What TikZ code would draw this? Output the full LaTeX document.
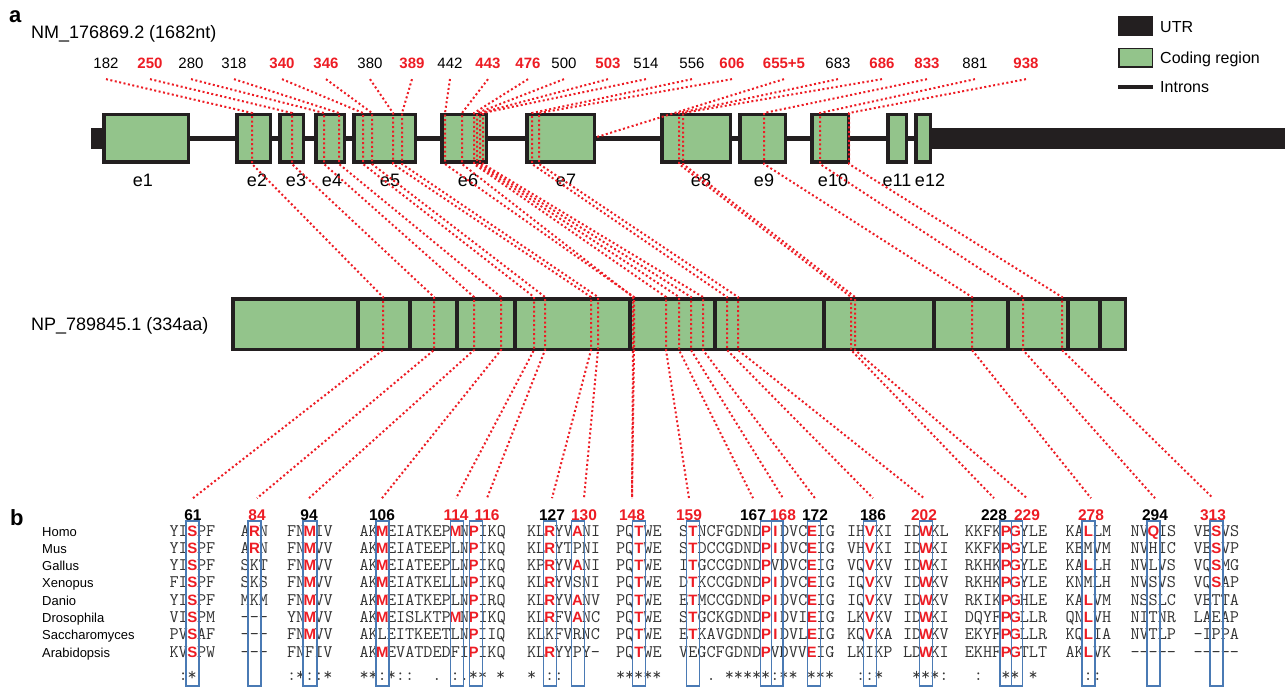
\documentclass[tikz,border=0pt]{standalone}
\usepackage{fontspec}
\setmainfont{Liberation Sans}

\definecolor{snpred}{RGB}{237,28,36}
\definecolor{cds}{RGB}{147,196,139}
\definecolor{utr}{RGB}{35,31,32}
\definecolor{colblue}{RGB}{74,122,180}

\newcommand{\hit}[1]{\makebox[9.3pt]{\rmfamily\bfseries\fontsize{15}{17}\selectfont\color{snpred}#1}}
\newcommand{\alnblock}[3]{%
    \foreach \s [count=\i] in {#3} {\node[aln] (#1-\i) at (#2,518.7+17.3*\i) {\s};}}

\tikzset{
            exon/.style={draw=utr, line width=3.5pt, fill=cds},
            intron/.style={draw=utr, line width=5pt},
            divider/.style={draw=utr, line width=3.5pt},
            snp/.style={draw=snpred, line width=2pt, dash pattern=on 2pt off 2.5pt},
            ntlab/.style={font=\fontsize{15}{18}\selectfont, inner sep=1pt, outer ysep=9pt, anchor=base},
            ntred/.style={ntlab, text=snpred, font=\fontsize{15}{18}\selectfont\bfseries},
            reslab/.style={font=\fontsize{15.5}{18}\selectfont\bfseries, inner sep=1pt, outer ysep=10pt, anchor=base},
            resred/.style={reslab, text=snpred},
            exlab/.style={font=\fontsize{18}{20}\selectfont, inner sep=0pt, anchor=base},
            title/.style={font=\fontsize{18}{20}\selectfont, inner sep=0pt, anchor=base west},
            legend/.style={font=\fontsize{16}{18}\selectfont, inner sep=0pt, anchor=base west},
            panel/.style={font=\fontsize{22}{26}\selectfont\bfseries, inner sep=0pt, anchor=base west},
            species/.style={font=\fontsize{13}{15}\selectfont, inner sep=0pt, anchor=base west},
            aln/.style={font=\ttfamily\fontsize{17.7}{19}\selectfont, text=black!80, inner sep=0pt, anchor=base west},
            colbox/.style={draw=colblue, line width=1.4pt}
        }

\begin{document}
\begin{tikzpicture}[x=1pt, y=-1pt]
    \useasboundingbox (0,0) rectangle (1285,687);

    % panel a: transcript
    \node[panel] (pa) at (9,23) {a};
    \node[title] (nm) at (31,39) {NM\_176869.2 (1682nt)};

    % legend
    \fill[utr] (1118,16) rectangle (1153,36);
    \node[legend] (lutr) at (1160,33) {UTR};
    \draw[exon, line width=1.5pt] (1118.75,48.75) rectangle (1152.25,67.25);
    \node[legend] (lcds) at (1160,64) {Coding region};
    \draw[intron, line width=4pt] (1118,87.5) -- (1153,87.5);
    \node[legend] (lint) at (1160,93) {Introns};

    % gene model
    \draw[intron] (91,138.5) -- (932,138.5);
    \fill[utr] (91,128) rectangle (102,149);
    \fill[utr] (932,128) rectangle (1285,149);
    \foreach \l/\r in {102/190, 235/272, 278/305, 314/346, 352/417, 440/488,
                       525/596, 660/732, 738/787, 810/850, 886/908, 914/932}
        \draw[exon] (\l+1.75,114.75) rectangle (\r-1.75,162.25);
    \foreach \nm/\x in {e1/143, e2/257, e3/296, e4/332, e5/390, e6/468, e7/566,
                        e8/701, e9/764, e10/833, e11/897, e12/930}
        \node[exlab] (\nm) at (\x,187) {\nm};

    % protein
    \node[title] (np) at (31,330) {NP\_789845.1 (334aa)};
    \draw[exon] (232.75,298.75) rectangle (1125.25,349.25);
    \foreach \x in {358, 410, 457, 515, 630, 715, 824, 934, 1008, 1068, 1100}
        \draw[divider] (\x,297) -- (\x,351);

    % nucleotide positions
    \foreach \nm/\txt/\x/\sty in {182/182/106/ntlab, 250/250/150/ntred, 280/280/191/ntlab,
                                 318/318/234/ntlab, 340/340/282/ntred, 346/346/326/ntred,
                                 380/380/370/ntlab, 389/389/412/ntred, 442/442/450/ntlab,
                                 443/443/488/ntred, 476/476/528/ntred, 500/500/564/ntlab,
                                 503/503/608/ntred, 514/514/646/ntlab, 556/556/692/ntlab,
                                 606/606/732/ntred, 655/655+5/784/ntred, 683/683/838/ntlab,
                                 686/686/882/ntred, 833/833/927/ntred, 881/881/975/ntlab,
                                 938/938/1026/ntred}
        \node[\sty] (n\nm) at (\x,69) {\txt};

    % panel b: residue numbers
    \node[panel] (pb) at (10,525) {b};
    \foreach \aa/\x/\sty in {61/193/reslab, 84/257/resred, 94/309/reslab, 106/382/reslab,
                            114/456/resred, 116/487/resred, 127/552/reslab, 130/584/resred,
                            148/632/resred, 159/689/resred, 167/753/reslab, 168/783/resred,
                            172/815/reslab, 186/873/reslab, 202/924/resred, 228/994/reslab,
                            229/1027/resred, 278/1091/resred, 294/1155/reslab, 313/1213/resred}
        \node[\sty] (r\aa) at (\x,520) {\aa};

    % mapping lines
    \foreach \nt/\gx/\px/\aa in {182/252/383/61, 250/292/434/84, 280/324/474/94, 318/339/501/106,
                                340/363/534/114, 346/372/545/116, 380/393/591/127, 389/402/598/130,
                                442/445/634/148, 443/462/633/148, 476/474/666/159, 500/477/679/167,
                                503/480/691/168, 514/483/703/172, 556/532/727/186, 606/539/738/202,
                                683/679/851/228, 686/683/855/229, 833/764/972/278, 881/820/1023/294,
                                938/849/1062/313}
        \draw[snp] (n\nt.south) -- (\gx,113) -- (\gx,164) -- (\px,297) -- (\px,350) -- (r\aa.north);
    \draw[snp] (n655.south) -- (597,137);

    % species
    \foreach \sp [count=\i] in {Homo, Mus, Gallus, Xenopus, Danio, Drosophila, Saccharomyces, Arabidopsis}
        \node[species] (sp\i) at (42,518.7+17.3*\i) {\sp};

    % alignment blocks
    \alnblock{b61}{169.3}{YI\hit{S}PF, YI\hit{S}PF, YI\hit{S}PF, FI\hit{S}PF, YI\hit{S}PF, VI\hit{S}PM, PV\hit{S}AF, KV\hit{S}PW}
    \alnblock{b84}{240.5}{A\hit{R}N, A\hit{R}N, SKT, SKS, MKM, ---, ---, ---}
    \alnblock{b94}{286.8}{FN\hit{M}IV, FN\hit{M}VV, FN\hit{M}VV, FN\hit{M}VV, FN\hit{M}VV, YN\hit{M}VV, FN\hit{M}VV, FNFIV}
    \alnblock{b106}{359.3}{AK\hit{M}EIATKEP\hit{M}N\hit{P}IKQ, AK\hit{M}EIATEEPLN\hit{P}IKQ, AK\hit{M}EIATEEPLN\hit{P}IKQ,
                           AK\hit{M}EIATKELLN\hit{P}IKQ, AK\hit{M}EIATKEPLN\hit{P}IRQ, AK\hit{M}EISLKTP\hit{M}N\hit{P}IKQ,
                           AKLEITKEETLN\hit{P}IIQ, AK\hit{M}EVATDEDFI\hit{P}IKQ}
    \alnblock{b127}{526.8}{KL\hit{R}YV\hit{A}NI, KL\hit{R}YTPNI, KP\hit{R}YV\hit{A}NI, KL\hit{R}YVSNI, KL\hit{R}YV\hit{A}NV,
                           KL\hit{R}FV\hit{A}NC, KLKFVRNC, KL\hit{R}YYPY-}
    \alnblock{b148}{615.8}{PQ\hit{T}WE, PQ\hit{T}WE, PQ\hit{T}WE, PQ\hit{T}WE, PQ\hit{T}WE, PQ\hit{T}WE, PQ\hit{T}WE, PQ\hit{T}WE}
    \alnblock{b159}{679}{S\hit{T}NCFGDND\hit{P}\hit{I}DVC\hit{E}IG, S\hit{T}DCCGDND\hit{P}\hit{I}DVC\hit{E}IG,
                         I\hit{T}GCCGDND\hit{P}VDVC\hit{E}IG, D\hit{T}KCCGDND\hit{P}\hit{I}DVC\hit{E}IG,
                         E\hit{T}MCCGDND\hit{P}\hit{I}DVC\hit{E}IG, S\hit{T}GCKGDND\hit{P}\hit{I}DVI\hit{E}IG,
                         E\hit{T}KAVGDND\hit{P}\hit{I}DVL\hit{E}IG, VEGCFGDND\hit{P}VDVV\hit{E}IG}
    \alnblock{b186}{846.8}{IH\hit{V}KI, VH\hit{V}KI, VQ\hit{V}KV, IQ\hit{V}KV, IQ\hit{V}KV, LK\hit{V}KV, KQ\hit{V}KA, LKIKP}
    \alnblock{b202}{902.8}{ID\hit{W}KL, ID\hit{W}KI, ID\hit{W}KI, ID\hit{W}KV, ID\hit{W}KV, ID\hit{W}KI, ID\hit{W}KV, LD\hit{W}KI}
    \alnblock{b228}{964.6}{KKFK\hit{P}\hit{G}YLE, KKFK\hit{P}\hit{G}YLE, RKHK\hit{P}\hit{G}YLE, RKHK\hit{P}\hit{G}YLE,
                           RKIK\hit{P}\hit{G}HLE, DQYF\hit{P}\hit{G}LLR, EKYF\hit{P}\hit{G}LLR, EKHF\hit{P}\hit{G}TLT}
    \alnblock{b278}{1065.3}{KA\hit{L}LM, KEMVM, KA\hit{L}LH, KNMLH, KA\hit{L}VM, QN\hit{L}VH, KQ\hit{L}IA, AK\hit{L}VK}
    \alnblock{b294}{1130.3}{NV\hit{Q}IS, NVHIC, NVLVS, NVSVS, NSSLC, NITNR, NVTLP, -----}
    \alnblock{b313}{1193.3}{VE\hit{S}VS, VE\hit{S}VP, VQ\hit{S}MG, VQ\hit{S}AP, VETTA, LAEAP, -IPPA, -----}

    % consensus
    \node[aln] (c61) at (169.3,680) {~:*};
    \node[aln] (c94) at (286.8,680) {:*::*};
    \node[aln] (c106) at (359.3,680) {**:*::~~.~:.**~*};
    \node[aln] (c127) at (526.8,680) {*~::};
    \node[aln] (c148) at (615.8,680) {*****};
    \node[aln] (c159) at (679,680) {~~~.~*****:**~***};
    \node[aln] (c186) at (846.8,680) {~::*};
    \node[aln] (c202) at (902.8,680) {~***:};
    \node[aln] (c228) at (964.6,680) {~:~~**~*};
    \node[aln] (c278) at (1065.3,680) {~~::};

    % highlighted columns
    \foreach \l/\r in {186/199, 248/261, 303/317, 376/389, 450.5/463.5, 469.5/482.5, 543.5/556.5,
                       571.5/584.5, 632.5/645.5, 686.5/699.5, 760.5/771.6, 771.6/782.8, 807.5/820.5,
                       863.5/876.5, 919.5/932.5, 1000/1011.2, 1011.2/1022.3, 1082/1095, 1147/1160, 1210/1223}
        \draw[colbox] (\l,521) rectangle (\r,686);
\end{tikzpicture}
\end{document}
